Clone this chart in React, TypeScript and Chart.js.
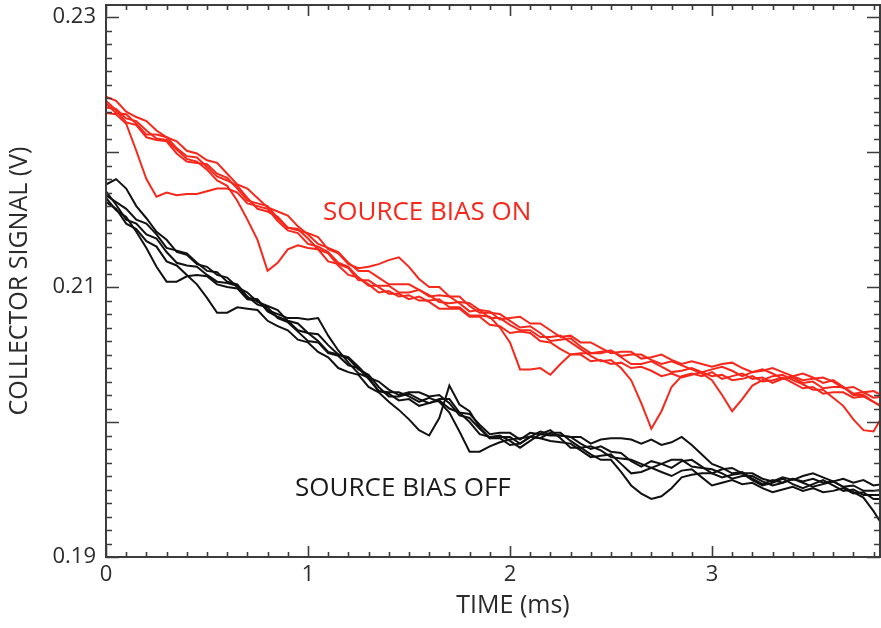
import { useEffect, useRef } from 'react';
import { Chart, registerables } from 'chart.js';

Chart.register(...registerables);

// time axis (ms)
const time = [
  0, 0.05, 0.1, 0.15, 0.2, 0.25, 0.3, 0.35, 0.4, 0.45,
  0.5, 0.55, 0.6, 0.65, 0.7, 0.75, 0.8, 0.85, 0.9, 0.95,
  1.0, 1.05, 1.1, 1.15, 1.2, 1.25, 1.3, 1.35, 1.4, 1.45,
  1.5, 1.55, 1.6, 1.65, 1.7, 1.75, 1.8, 1.85, 1.9, 1.95,
  2.0, 2.05, 2.1, 2.15, 2.2, 2.25, 2.3, 2.35, 2.4, 2.45,
  2.5, 2.55, 2.6, 2.65, 2.7, 2.75, 2.8, 2.85, 2.9, 2.95,
  3.0, 3.05, 3.1, 3.15, 3.2, 3.25, 3.3, 3.35, 3.4, 3.45,
  3.5, 3.55, 3.6, 3.65, 3.7, 3.75, 3.8, 3.85,
];

// SOURCE BIAS ON shots (V)
const biasOn1 = [
  0.2241, 0.2238, 0.2230, 0.2226, 0.2223, 0.2216, 0.2211, 0.2208, 0.2201, 0.2199,
  0.2194, 0.2192, 0.2184, 0.2176, 0.2173, 0.2166, 0.2159, 0.2156, 0.2153, 0.2145,
  0.2139, 0.2132, 0.2129, 0.2126, 0.2118, 0.2112, 0.2112, 0.2107, 0.2102, 0.2102,
  0.2102, 0.2098, 0.2093, 0.2094, 0.2093, 0.2088, 0.2082, 0.2083, 0.2082, 0.2076,
  0.2077, 0.2078, 0.2073, 0.2073, 0.2068, 0.2063, 0.2064, 0.2059, 0.2059, 0.2055,
  0.2051, 0.2052, 0.2052, 0.2047, 0.2048, 0.2050, 0.2046, 0.2043, 0.2045, 0.2043,
  0.2041, 0.2043, 0.2044, 0.2040, 0.2037, 0.2038, 0.2040, 0.2037, 0.2034, 0.2036,
  0.2033, 0.2029, 0.2031, 0.2026, 0.2021, 0.2022, 0.2018, 0.2019,
];
const biasOn2 = [
  0.2236, 0.2229, 0.2228, 0.2221, 0.2213, 0.2213, 0.2211, 0.2203, 0.2197, 0.2196,
  0.2189, 0.2182, 0.2179, 0.2175, 0.2166, 0.2158, 0.2156, 0.2152, 0.2144, 0.2142,
  0.2140, 0.2137, 0.2128, 0.2125, 0.2117, 0.2114, 0.2115, 0.2117, 0.2120, 0.2122,
  0.2115, 0.2106, 0.2100, 0.2100, 0.2093, 0.2093, 0.2086, 0.2081, 0.2081, 0.2080,
  0.2075, 0.2070, 0.2071, 0.2066, 0.2060, 0.2061, 0.2062, 0.2056, 0.2051, 0.2052,
  0.2053, 0.2048, 0.2043, 0.2043, 0.2045, 0.2041, 0.2037, 0.2038, 0.2040, 0.2037,
  0.2039, 0.2041, 0.2038, 0.2034, 0.2037, 0.2039, 0.2036, 0.2032, 0.2034, 0.2031,
  0.2032, 0.2033, 0.2030, 0.2025, 0.2026, 0.2022, 0.2023, 0.2019,
];
const biasOn3 = [
  0.2229, 0.2228, 0.2221, 0.2201, 0.2180, 0.2167, 0.2170, 0.2168, 0.2169, 0.2169,
  0.2171, 0.2173, 0.2173, 0.2170, 0.2162, 0.2160, 0.2158, 0.2149, 0.2142, 0.2140,
  0.2132, 0.2130, 0.2126, 0.2118, 0.2115, 0.2107, 0.2101, 0.2101, 0.2101, 0.2096,
  0.2096, 0.2098, 0.2094, 0.2089, 0.2088, 0.2089, 0.2088, 0.2083, 0.2077, 0.2077,
  0.2072, 0.2068, 0.2068, 0.2063, 0.2063, 0.2064, 0.2059, 0.2054, 0.2049, 0.2045,
  0.2046, 0.2040, 0.2031, 0.2014, 0.1995, 0.2008, 0.2026, 0.2034, 0.2036, 0.2034,
  0.2037, 0.2032, 0.2034, 0.2036, 0.2032, 0.2033, 0.2029, 0.2032, 0.2033, 0.2029,
  0.2030, 0.2025, 0.2026, 0.2026, 0.2020, 0.2020, 0.2015, 0.2011,
];
const biasOn4 = [
  0.2233, 0.2232, 0.2225, 0.2223, 0.2216, 0.2210, 0.2209, 0.2202, 0.2195, 0.2193,
  0.2187, 0.2179, 0.2175, 0.2164, 0.2150, 0.2135, 0.2112, 0.2118, 0.2128, 0.2131,
  0.2129, 0.2128, 0.2119, 0.2117, 0.2114, 0.2105, 0.2105, 0.2100, 0.2095, 0.2095,
  0.2091, 0.2093, 0.2089, 0.2084, 0.2084, 0.2084, 0.2078, 0.2078, 0.2072, 0.2071,
  0.2066, 0.2067, 0.2066, 0.2060, 0.2059, 0.2054, 0.2050, 0.2050, 0.2045, 0.2046,
  0.2043, 0.2044, 0.2040, 0.2041, 0.2038, 0.2034, 0.2036, 0.2033, 0.2035, 0.2037,
  0.2034, 0.2035, 0.2031, 0.2032, 0.2034, 0.2030, 0.2031, 0.2033, 0.2029, 0.2025,
  0.2026, 0.2021, 0.2022, 0.2022, 0.2018, 0.2019, 0.2015, 0.2010,
];
const biasOn5 = [
  0.2238, 0.2231, 0.2222, 0.2220, 0.2211, 0.2209, 0.2208, 0.2199, 0.2193, 0.2192,
  0.2191, 0.2184, 0.2181, 0.2173, 0.2164, 0.2162, 0.2160, 0.2151, 0.2144, 0.2143,
  0.2136, 0.2128, 0.2125, 0.2116, 0.2109, 0.2107, 0.2102, 0.2096, 0.2097, 0.2093,
  0.2094, 0.2090, 0.2090, 0.2091, 0.2085, 0.2085, 0.2079, 0.2079, 0.2078, 0.2070,
  0.2059, 0.2039, 0.2039, 0.2040, 0.2035, 0.2043, 0.2050, 0.2051, 0.2051, 0.2051,
  0.2053, 0.2049, 0.2050, 0.2050, 0.2046, 0.2043, 0.2045, 0.2042, 0.2039, 0.2036,
  0.2031, 0.2020, 0.2008, 0.2017, 0.2027, 0.2031, 0.2034, 0.2035, 0.2031, 0.2028,
  0.2024, 0.2024, 0.2018, 0.2012, 0.2002, 0.1994, 0.1993, 0.2006,
];

// SOURCE BIAS OFF shots (V)
const biasOff1 = [
  0.2176, 0.2180, 0.2173, 0.2160, 0.2151, 0.2141, 0.2135, 0.2126, 0.2124, 0.2117,
  0.2115, 0.2109, 0.2107, 0.2100, 0.2096, 0.2089, 0.2086, 0.2083, 0.2075, 0.2073,
  0.2066, 0.2065, 0.2057, 0.2050, 0.2048, 0.2041, 0.2033, 0.2030, 0.2024, 0.2020,
  0.2022, 0.2022, 0.2019, 0.2020, 0.2014, 0.2005, 0.2003, 0.1995, 0.1988, 0.1989,
  0.1989, 0.1984, 0.1989, 0.1993, 0.1991, 0.1990, 0.1989, 0.1984, 0.1980, 0.1982,
  0.1978, 0.1977, 0.1971, 0.1967, 0.1971, 0.1969, 0.1966, 0.1971, 0.1972, 0.1967,
  0.1962, 0.1965, 0.1966, 0.1962, 0.1962, 0.1958, 0.1956, 0.1959, 0.1957, 0.1960,
  0.1962, 0.1959, 0.1956, 0.1958, 0.1955, 0.1957, 0.1953, 0.1954,
];
const biasOff2 = [
  0.2166, 0.2157, 0.2152, 0.2141, 0.2129, 0.2115, 0.2104, 0.2104, 0.2108, 0.2109,
  0.2108, 0.2102, 0.2100, 0.2099, 0.2091, 0.2090, 0.2083, 0.2080, 0.2077, 0.2077,
  0.2076, 0.2077, 0.2064, 0.2053, 0.2044, 0.2036, 0.2033, 0.2023, 0.2021, 0.2016,
  0.2017, 0.2012, 0.2014, 0.2016, 0.2010, 0.2007, 0.2000, 0.1991, 0.1989, 0.1990,
  0.1986, 0.1981, 0.1986, 0.1991, 0.1994, 0.1988, 0.1981, 0.1981, 0.1982, 0.1979,
  0.1974, 0.1973, 0.1972, 0.1969, 0.1966, 0.1969, 0.1972, 0.1972, 0.1967, 0.1966,
  0.1965, 0.1962, 0.1958, 0.1960, 0.1960, 0.1956, 0.1953, 0.1955, 0.1958, 0.1955,
  0.1952, 0.1954, 0.1956, 0.1952, 0.1953, 0.1949, 0.1949, 0.1950,
];
const biasOff3 = [
  0.2163, 0.2158, 0.2147, 0.2143, 0.2134, 0.2130, 0.2119, 0.2116, 0.2109, 0.2102,
  0.2092, 0.2081, 0.2081, 0.2085, 0.2084, 0.2083, 0.2075, 0.2071, 0.2068, 0.2061,
  0.2059, 0.2052, 0.2048, 0.2040, 0.2037, 0.2035, 0.2026, 0.2022, 0.2015, 0.2009,
  0.2002, 0.1994, 0.1990, 0.2003, 0.2027, 0.2013, 0.2008, 0.1996, 0.1988, 0.1988,
  0.1983, 0.1984, 0.1989, 0.1988, 0.1986, 0.1985, 0.1984, 0.1979, 0.1974, 0.1975,
  0.1976, 0.1969, 0.1962, 0.1963, 0.1966, 0.1963, 0.1960, 0.1964, 0.1965, 0.1959,
  0.1953, 0.1955, 0.1957, 0.1954, 0.1955, 0.1951, 0.1948, 0.1950, 0.1952, 0.1949,
  0.1951, 0.1948, 0.1949, 0.1951, 0.1947, 0.1948, 0.1943, 0.1943,
];
const biasOff4 = [
  0.2168, 0.2163, 0.2158, 0.2150, 0.2147, 0.2139, 0.2129, 0.2127, 0.2125, 0.2118,
  0.2112, 0.2111, 0.2104, 0.2102, 0.2093, 0.2087, 0.2085, 0.2077, 0.2074, 0.2067,
  0.2060, 0.2059, 0.2051, 0.2049, 0.2042, 0.2040, 0.2032, 0.2023, 0.2022, 0.2022,
  0.2019, 0.2015, 0.2018, 0.2015, 0.2007, 0.1993, 0.1978, 0.1978, 0.1982, 0.1985,
  0.1987, 0.1988, 0.1989, 0.1988, 0.1992, 0.1992, 0.1986, 0.1981, 0.1976, 0.1972,
  0.1972, 0.1963, 0.1953, 0.1947, 0.1943, 0.1945, 0.1951, 0.1959, 0.1961, 0.1962,
  0.1962, 0.1959, 0.1961, 0.1962, 0.1957, 0.1953, 0.1955, 0.1958, 0.1954, 0.1951,
  0.1954, 0.1957, 0.1953, 0.1949, 0.1950, 0.1946, 0.1946, 0.1946,
];
const biasOff5 = [
  0.2171, 0.2161, 0.2150, 0.2147, 0.2139, 0.2136, 0.2126, 0.2118, 0.2116, 0.2115,
  0.2109, 0.2104, 0.2103, 0.2101, 0.2092, 0.2091, 0.2082, 0.2078, 0.2075, 0.2068,
  0.2066, 0.2060, 0.2052, 0.2050, 0.2047, 0.2039, 0.2035, 0.2026, 0.2019, 0.2019,
  0.2021, 0.2017, 0.2014, 0.2017, 0.2017, 0.2007, 0.2006, 0.1998, 0.1991, 0.1992,
  0.1992, 0.1987, 0.1992, 0.1991, 0.1990, 0.1990, 0.1989, 0.1989, 0.1984, 0.1987,
  0.1988, 0.1988, 0.1987, 0.1984, 0.1987, 0.1983, 0.1985, 0.1989, 0.1983, 0.1976,
  0.1969, 0.1966, 0.1962, 0.1963, 0.1958, 0.1954, 0.1957, 0.1955, 0.1958, 0.1956,
  0.1958, 0.1955, 0.1956, 0.1952, 0.1948, 0.1944, 0.1934, 0.1922,
];

const onSeries = [biasOn1, biasOn2, biasOn3, biasOn4, biasOn5];
const offSeries = [biasOff1, biasOff2, biasOff3, biasOff4, biasOff5];

// axes
const xMin = 0;
const xMax = 3.832;
const yMin = 0.19;
const yMax = 0.2309;
const xMajorTicks = [0, 1, 2, 3];
const xTickLabels = ['0', '1', '2', '3'];
const xMinorStep = 0.1;
const yMajorTicks = [0.19, 0.2, 0.21, 0.22, 0.23];
const yLabelValues = [0.19, 0.21, 0.23];
const yTickLabels = ['0.19', '0.21', '0.23'];
const yMinorStep = 0.001;

const xTitle = 'TIME (ms)';
const yTitle = 'COLLECTOR SIGNAL (V)';
const onLabel = { text: 'SOURCE BIAS ON', x: 1.59, y: 0.2155 };
const offLabel = { text: 'SOURCE BIAS OFF', x: 1.47, y: 0.1951 };

const RED = '#f6281c';
const BLACK = '#111111';
const AXIS = '#3c3c3c';
const TEXT = '#2b2b2b';
const FONT = '"Open Sans", "DejaVu Sans", sans-serif';

const framePlugin = {
  id: 'frameAndText',
  afterDraw(chart: any) {
    const { ctx, chartArea } = chart;
    const { left, right, top, bottom } = chartArea;
    const xs = chart.scales.x;
    const ys = chart.scales.y;
    ctx.save();
    // ticks
    ctx.strokeStyle = AXIS;
    ctx.lineWidth = 1.6;
    ctx.beginPath();
    const nx = Math.round((xMax - xMin) / xMinorStep);
    for (let k = 0; k <= nx; k++) {
      const v = xMin + k * xMinorStep;
      if (v > xMax) break;
      const px = Math.round(xs.getPixelForValue(v)) + 0.5;
      const major = xMajorTicks.some((m) => Math.abs(m - v) < 1e-6);
      const len = major ? 11 : 5;
      ctx.moveTo(px, bottom);
      ctx.lineTo(px, bottom - len);
      ctx.moveTo(px, top);
      ctx.lineTo(px, top + len);
    }
    const ny = Math.round((yMax - yMin) / yMinorStep);
    for (let k = 0; k <= ny; k++) {
      const v = yMin + k * yMinorStep;
      if (v > yMax + 1e-9) break;
      const py = Math.round(ys.getPixelForValue(v)) + 0.5;
      const major = yMajorTicks.some((m) => Math.abs(m - v) < 1e-6);
      const len = major ? 13 : 6;
      ctx.moveTo(left, py);
      ctx.lineTo(left + len, py);
      ctx.moveTo(right, py);
      ctx.lineTo(right - len, py);
    }
    ctx.stroke();
    // frame
    ctx.lineWidth = 2;
    ctx.strokeRect(left, top, right - left, bottom - top);

    // tick labels
    ctx.fillStyle = TEXT;
    ctx.font = `22px ${FONT}`;
    ctx.textAlign = 'right';
    ctx.textBaseline = 'middle';
    yLabelValues.forEach((v, i) => {
      ctx.fillText(yTickLabels[i], left - 10, ys.getPixelForValue(v));
    });
    ctx.textAlign = 'center';
    ctx.textBaseline = 'top';
    xMajorTicks.forEach((v, i) => {
      ctx.fillText(xTickLabels[i], xs.getPixelForValue(v), bottom + 7);
    });

    // axis titles
    ctx.font = `25px ${FONT}`;
    ctx.textBaseline = 'middle';
    ctx.fillText(xTitle, 513, 606);
    ctx.save();
    ctx.translate(20, (top + bottom) / 2);
    ctx.rotate(-Math.PI / 2);
    ctx.fillText(yTitle, 0, 0);
    ctx.restore();

    // annotations
    ctx.font = `26px ${FONT}`;
    ctx.fillStyle = RED;
    ctx.fillText(onLabel.text, xs.getPixelForValue(onLabel.x), ys.getPixelForValue(onLabel.y));
    ctx.fillStyle = '#1a1a1a';
    ctx.fillText(offLabel.text, xs.getPixelForValue(offLabel.x), ys.getPixelForValue(offLabel.y));
    ctx.restore();
  },
};

export default function App() {
  const ref = useRef<HTMLCanvasElement | null>(null);

  useEffect(() => {
    document.body.style.margin = '0';
    const canvas = ref.current;
    if (!canvas) return;
    const mk = (arr: number[], color: string) => ({
      data: arr.map((v, i) => ({ x: time[i], y: v })),
      borderColor: color,
      borderWidth: 2,
      pointRadius: 0,
      tension: 0,
      fill: false,
    });
    const chart = new Chart(canvas, {
      type: 'line',
      data: {
        datasets: [
          ...offSeries.map((s) => mk(s, BLACK)),
          ...onSeries.map((s) => mk(s, RED)),
        ],
      },
      options: {
        animation: false,
        responsive: false,
        devicePixelRatio: 1,
        parsing: false,
        layout: { padding: { left: 106, right: 1, top: 5, bottom: 71 } },
        plugins: { legend: { display: false }, tooltip: { enabled: false }, title: { display: false } },
        events: [],
        scales: {
          x: { type: 'linear', display: false, min: xMin, max: xMax },
          y: { type: 'linear', display: false, min: yMin, max: yMax },
        },
      },
      plugins: [framePlugin],
    });
    return () => chart.destroy();
  }, []);

  return (
    <div style={{ width: 881, height: 628, background: '#fff' }}>
      <canvas ref={ref} width={881} height={628} />
    </div>
  );
}
